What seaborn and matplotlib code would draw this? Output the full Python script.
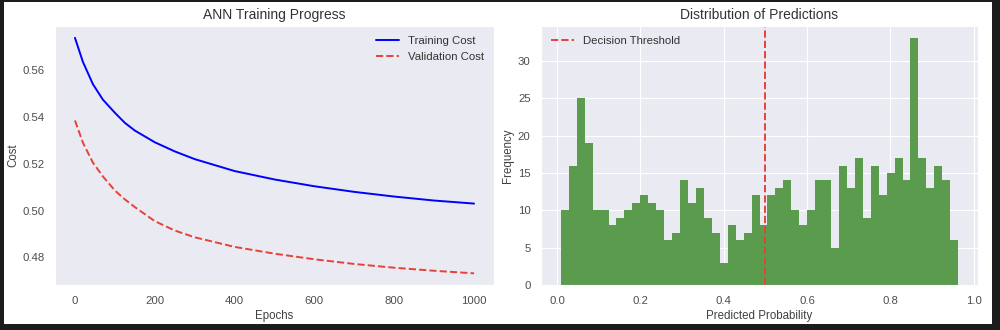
import numpy as np
import pandas as pd
import matplotlib
matplotlib.use("Agg")
import matplotlib.pyplot as plt
import seaborn as sns
from matplotlib.patches import Rectangle

# ------------------------------------------------------------------
# Data
# ------------------------------------------------------------------
epochs = [0, 20, 45, 70, 100, 125, 150, 200, 250, 300,
          400, 500, 600, 700, 800, 900, 1000]
training_cost = [0.5738, 0.5635, 0.5540, 0.5474, 0.5418, 0.5375, 0.5342, 0.5292, 0.5253, 0.5220,
                 0.5169, 0.5133, 0.5104, 0.5080, 0.5060, 0.5043, 0.5030]
validation_cost = [0.5385, 0.5290, 0.5205, 0.5146, 0.5086, 0.5048, 0.5015, 0.4955, 0.4915, 0.4886,
                   0.4845, 0.4816, 0.4792, 0.4772, 0.4756, 0.4743, 0.4732]

# histogram counts per bin (50 bins between prob_min and prob_max)
prob_min, prob_max = 0.009, 0.963
bin_counts = [10, 16, 25, 19, 10, 10, 8, 9, 10, 11,
              12, 11, 10, 6, 7, 14, 11, 13, 9, 7,
              3, 8, 6, 7, 12, 8, 12, 13, 14, 10,
              8, 10, 14, 14, 5, 16, 13, 17, 9, 16,
              12, 15, 17, 14, 33, 17, 13, 16, 14, 6]
threshold = 0.5

n_bins = len(bin_counts)
edges = np.linspace(prob_min, prob_max, n_bins + 1)
hist_df = pd.DataFrame({
    'prob': (edges[:-1] + edges[1:]) / 2,
    'count': bin_counts,
})

# ------------------------------------------------------------------
# Style
# ------------------------------------------------------------------
sns.set_style("darkgrid")
plt.rcParams['font.family'] = ['Liberation Sans', 'DejaVu Sans']
plt.rcParams['axes.titlesize'] = 10
plt.rcParams['axes.labelsize'] = 8.3
plt.rcParams['xtick.labelsize'] = 8.2
plt.rcParams['ytick.labelsize'] = 8.2
plt.rcParams['legend.fontsize'] = 8.2
plt.rcParams['text.color'] = '.2'
plt.rcParams['axes.labelcolor'] = '.25'
plt.rcParams['xtick.color'] = '.3'
plt.rcParams['ytick.color'] = '.3'
plt.rcParams['xtick.major.pad'] = 4
plt.rcParams['ytick.major.pad'] = 4

fig = plt.figure(figsize=(10, 3.3), dpi=100)
fig.patch.set_facecolor('#1c1c1c')
# white page inside the dark frame
fig.patches.append(Rectangle((0.004, 0.018), 0.988, 0.976, transform=fig.transFigure,
                             facecolor='white', edgecolor='none', zorder=-10))

ax1 = fig.add_axes([0.055, 0.136, 0.439, 0.785])
ax2 = fig.add_axes([0.541, 0.136, 0.437, 0.785])

# --- Left: training progress ---
sns.lineplot(x=epochs, y=training_cost, ax=ax1, color='blue', linewidth=1.4,
             label='Training Cost')
sns.lineplot(x=epochs, y=validation_cost, ax=ax1, color='#e8413a', linewidth=1.4,
             linestyle='--', label='Validation Cost')
ax1.set_title('ANN Training Progress', pad=5)
ax1.set_xlabel('Epochs', labelpad=3)
ax1.set_ylabel('Cost', labelpad=2)
ax1.grid(False)
ax1.legend(loc='upper right', frameon=False)

# --- Right: distribution of predictions ---
sns.histplot(data=hist_df, x='prob', weights='count', bins=n_bins,
             binrange=(prob_min, prob_max), ax=ax2,
             color='#5a9b4e', alpha=1, linewidth=0)
ax2.axvline(threshold, color='#e8413a', linestyle='--', linewidth=1.4,
            label='Decision Threshold')
ax2.set_title('Distribution of Predictions', pad=5)
ax2.set_xlabel('Predicted Probability', labelpad=3)
ax2.set_ylabel('Frequency', labelpad=3)
ax2.legend(loc='upper left', frameon=False)

fig.savefig('out.png', dpi=100, facecolor=fig.get_facecolor())
